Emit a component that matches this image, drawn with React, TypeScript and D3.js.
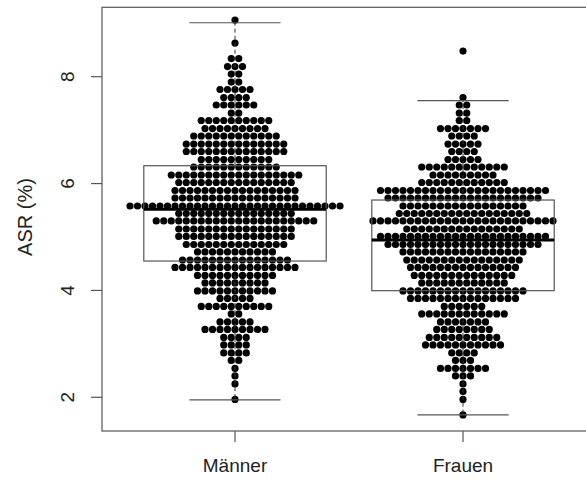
import React from "react";
import * as d3 from "d3";

// Group labels
const groups = ["Männer", "Frauen"];

// Beeswarm rows: row value (ASR %) and number of points in that row
const maennerValues = [9.06, 8.63, 8.34, 8.19, 8.05, 7.90, 7.76, 7.61, 7.47, 7.32, 7.18, 7.03, 6.89, 6.74, 6.60, 6.45, 6.31, 6.16, 6.02, 5.87, 5.73, 5.58, 5.44, 5.30, 5.15, 5.01, 4.86, 4.72, 4.57, 4.43, 4.28, 4.14, 3.99, 3.85, 3.70, 3.56, 3.41, 3.27, 3.12, 2.98, 2.83, 2.69, 2.54, 2.40, 2.25, 1.96];
const maennerCounts = [1, 1, 2, 3, 2, 2, 5, 4, 6, 2, 10, 9, 12, 14, 14, 10, 12, 18, 16, 17, 17, 29, 16, 22, 16, 16, 14, 11, 15, 17, 11, 9, 11, 5, 10, 2, 5, 9, 4, 4, 4, 2, 1, 1, 1, 1];

const frauenValues = [8.48, 7.61, 7.47, 7.32, 7.18, 7.03, 6.89, 6.74, 6.60, 6.45, 6.31, 6.16, 6.02, 5.87, 5.73, 5.58, 5.44, 5.30, 5.15, 5.01, 4.86, 4.72, 4.57, 4.43, 4.28, 4.14, 3.99, 3.85, 3.70, 3.56, 3.41, 3.27, 3.12, 2.98, 2.83, 2.69, 2.54, 2.40, 2.25, 2.11, 1.96, 1.67];
const frauenCounts = [1, 1, 2, 2, 2, 7, 4, 5, 4, 5, 12, 9, 12, 23, 21, 17, 18, 25, 16, 23, 21, 17, 16, 15, 14, 12, 17, 15, 6, 12, 7, 8, 10, 11, 4, 3, 7, 3, 1, 1, 1, 1];

// Boxplot statistics per group: lower whisker, Q1, median, Q3, upper whisker
const whiskerLow = [1.95, 1.67];
const quartile1 = [4.55, 3.995];
const medians = [5.52, 4.944];
const quartile3 = [6.334, 5.692];
const whiskerHigh = [9.01, 7.551];

const yTicks = [2, 4, 6, 8];
const yLabel = "ASR (%)";

const W = 586;
const H = 482;
const plotLeft = 102;
const plotTop = 7.3;
const plotBottom = 431;
const plotRight = 595;

export default function App() {
  const y = d3.scaleLinear().domain([2, 8]).range([397.3, 76.7]);
  const x = d3.scaleLinear().domain([1, 2]).range([235, 463]);
  const boxHalf = x(1.4) - x(1);
  const capHalf = boxHalf / 2;
  const dx = 7.5;
  const r = 3.6;
  const font = "'Liberation Sans', Arial, Helvetica, sans-serif";
  const lineCol = "#555";

  const swarms = [
    { values: maennerValues, counts: maennerCounts },
    { values: frauenValues, counts: frauenCounts },
  ];

  const dots: { cx: number; cy: number; key: string }[] = [];
  swarms.forEach((s, g) => {
    s.values.forEach((v, ri) => {
      const n = s.counts[ri];
      for (let i = 0; i < n; i++) {
        const off = i - (n - 1) / 2;
        dots.push({ cx: x(g + 1) + off * dx, cy: y(v), key: `${g}-${ri}-${i}` });
      }
    });
  });

  return (
    <svg
      width={W}
      height={H}
      style={{ position: "fixed", left: 0, top: 0, background: "#fff" }}
      xmlns="http://www.w3.org/2000/svg"
    >
      <rect x={0} y={0} width={W} height={H} fill="#fff" />
      {/* dots */}
      <g>
        {dots.map((d) => (
          <circle key={d.key} cx={d.cx} cy={d.cy} r={r} fill="#000" />
        ))}
      </g>
      {/* boxplots */}
      {groups.map((gname, g) => {
        const cx = x(g + 1);
        return (
          <g key={gname}>
            <line x1={cx} x2={cx} y1={y(quartile3[g])} y2={y(whiskerHigh[g])} stroke="#333" strokeWidth={1} strokeDasharray="4,3" />
            <line x1={cx} x2={cx} y1={y(quartile1[g])} y2={y(whiskerLow[g])} stroke="#333" strokeWidth={1} strokeDasharray="4,3" />
            <line x1={cx - capHalf} x2={cx + capHalf} y1={y(whiskerHigh[g])} y2={y(whiskerHigh[g])} stroke={lineCol} strokeWidth={1.2} />
            <line x1={cx - capHalf} x2={cx + capHalf} y1={y(whiskerLow[g])} y2={y(whiskerLow[g])} stroke={lineCol} strokeWidth={1.2} />
            <rect
              x={cx - boxHalf}
              y={y(quartile3[g])}
              width={boxHalf * 2}
              height={y(quartile1[g]) - y(quartile3[g])}
              fill="none"
              stroke={lineCol}
              strokeWidth={1.2}
            />
            <line x1={cx - boxHalf} x2={cx + boxHalf} y1={y(medians[g])} y2={y(medians[g])} stroke="#000" strokeWidth={3} />
          </g>
        );
      })}
      {/* plot frame */}
      <rect x={plotLeft} y={plotTop} width={plotRight - plotLeft} height={plotBottom - plotTop} fill="none" stroke={lineCol} strokeWidth={1.2} />
      {/* y axis ticks */}
      {yTicks.map((t) => (
        <g key={t}>
          <line x1={plotLeft - 11} x2={plotLeft} y1={y(t)} y2={y(t)} stroke={lineCol} strokeWidth={1.2} />
          <text
            transform={`translate(74,${y(t)}) rotate(-90)`}
            textAnchor="middle"
            fontFamily={font}
            fontSize={19}
            fill="#222"
          >
            {t}
          </text>
        </g>
      ))}
      {/* x axis ticks */}
      {groups.map((gname, g) => (
        <g key={gname}>
          <line x1={x(g + 1)} x2={x(g + 1)} y1={plotBottom} y2={plotBottom + 11} stroke={lineCol} strokeWidth={1.2} />
          <text x={x(g + 1)} y={472} textAnchor="middle" fontFamily={font} fontSize={19} fill="#222">
            {gname}
          </text>
        </g>
      ))}
      <text
        transform={`translate(32,217) rotate(-90)`}
        textAnchor="middle"
        fontFamily={font}
        fontSize={20}
        fill="#222"
      >
        {yLabel}
      </text>
    </svg>
  );
}
